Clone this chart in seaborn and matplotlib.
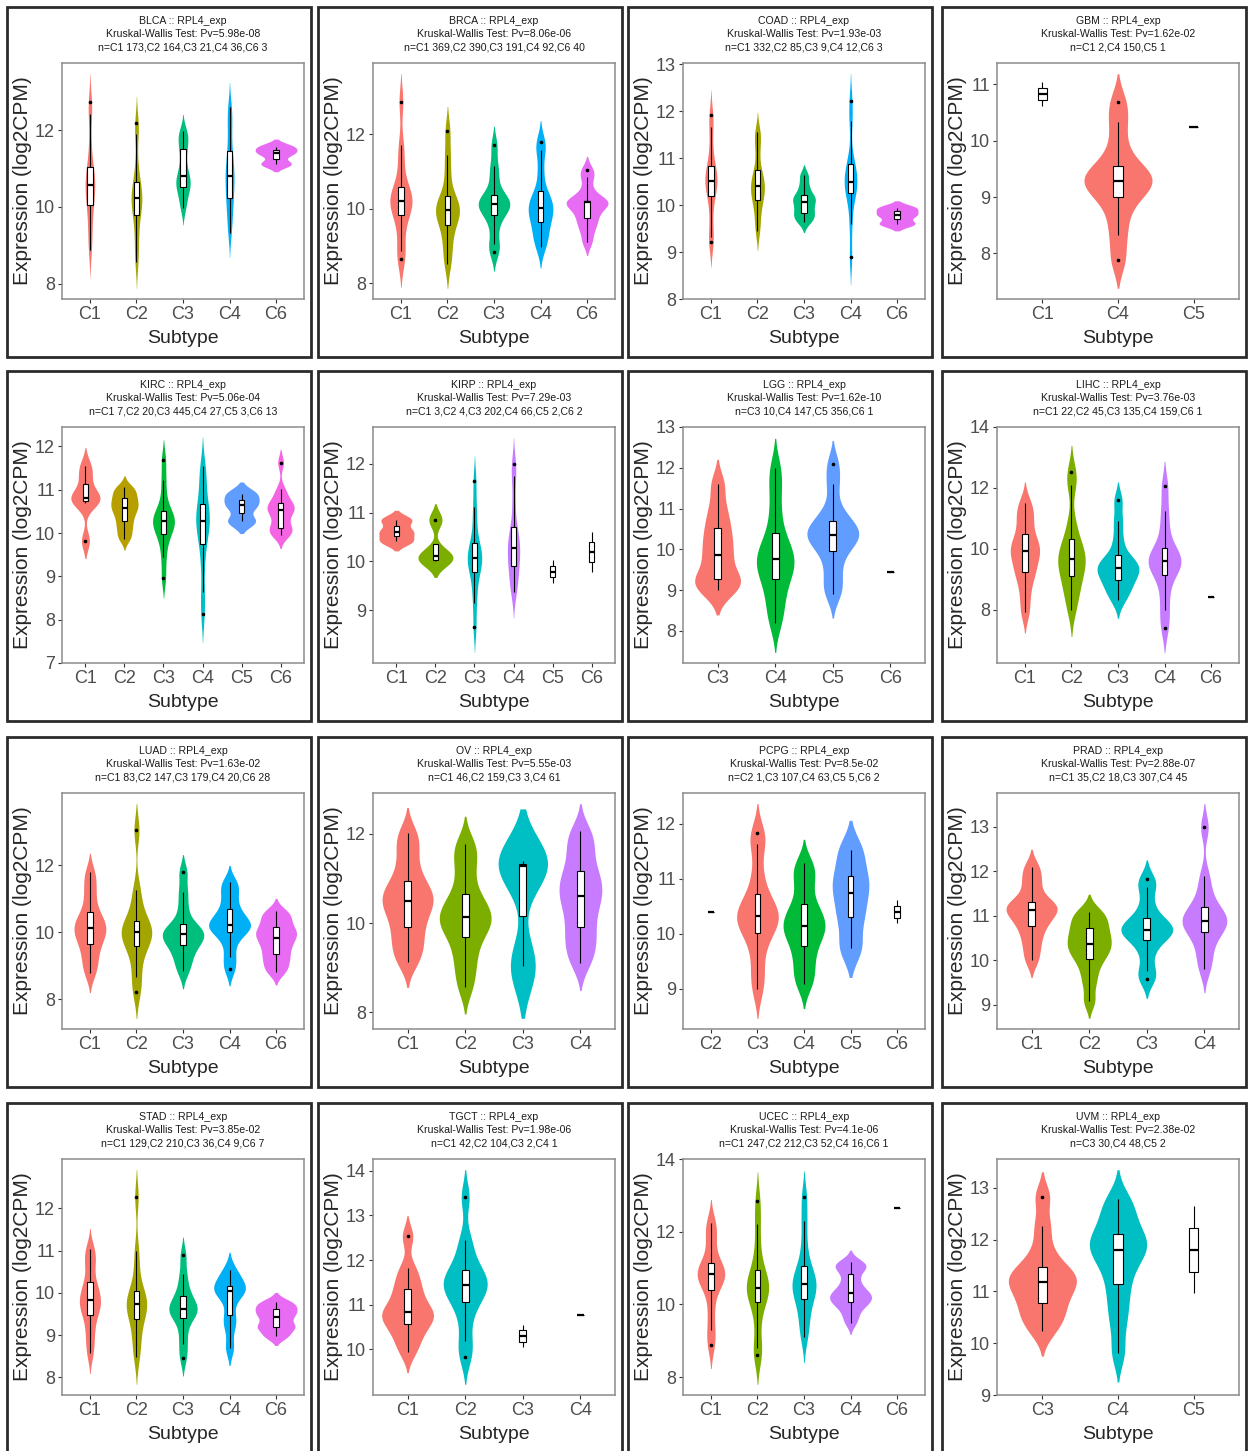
import numpy as np
import pandas as pd
import matplotlib
matplotlib.use("Agg")
import matplotlib.pyplot as plt
import seaborn as sns
from matplotlib.patches import Rectangle

# values below (quantile-like points per subtype)
cancers = ["BLCA", "BRCA", "COAD", "GBM", "KIRC", "KIRP", "LGG", "LIHC",
           "LUAD", "OV", "PCPG", "PRAD", "STAD", "TGCT", "UCEC", "UVM"]
pvalues = ["5.98e-08", "8.06e-06", "1.93e-03", "1.62e-02", "5.06e-04", "7.29e-03", "1.62e-10", "3.76e-03",
           "1.63e-02", "5.55e-03", "8.5e-02", "2.88e-07", "3.85e-02", "1.98e-06", "4.1e-06", "2.38e-02"]
yticks = [[8, 10, 12], [8, 10, 12], [8, 9, 10, 11, 12, 13], [8, 9, 10, 11],
          [7, 8, 9, 10, 11, 12], [9, 10, 11, 12], [8, 9, 10, 11, 12, 13], [8, 10, 12, 14],
          [8, 10, 12], [8, 10, 12], [9, 10, 11, 12], [9, 10, 11, 12, 13],
          [8, 9, 10, 11, 12], [10, 11, 12, 13, 14], [8, 10, 12, 14], [9, 10, 11, 12, 13]]

blca_sub = ["C1", "C2", "C3", "C4", "C6"]
blca_n = [173, 164, 21, 36, 3]
blca_vals = [[8.88, 9.3, 9.7, 10.04, 10.25, 10.42, 10.58, 10.72, 10.88, 11.03, 11.6, 12.42, 12.74],
             [8.56, 9.0, 9.4, 9.78, 9.95, 10.1, 10.22, 10.35, 10.5, 10.65, 11.1, 11.9, 12.2],
             [9.96, 10.2, 10.4, 10.52, 10.62, 10.72, 10.81, 11.0, 11.25, 11.51, 11.7, 11.85, 11.99],
             [9.33, 9.7, 10.0, 10.22, 10.45, 10.65, 10.81, 10.98, 11.2, 11.46, 11.9, 12.3, 12.6],
             [11.12, 11.4, 11.57]]

brca_sub = ["C1", "C2", "C3", "C4", "C6"]
brca_n = [369, 390, 191, 92, 40]
brca_vals = [[8.64, 8.85, 9.4, 9.83, 10.0, 10.1, 10.21, 10.33, 10.45, 10.58, 11.2, 11.7, 12.88],
             [8.51, 8.9, 9.25, 9.57, 9.75, 9.86, 9.96, 10.08, 10.2, 10.35, 10.9, 11.45, 12.1],
             [8.84, 9.05, 9.5, 9.83, 9.96, 10.05, 10.12, 10.2, 10.28, 10.37, 10.8, 11.15, 11.7],
             [8.97, 9.2, 9.4, 9.63, 9.8, 9.92, 10.02, 10.15, 10.3, 10.47, 11.0, 11.57, 11.8],
             [9.1, 9.4, 9.6, 9.75, 9.9, 10.05, 10.17, 10.19, 10.2, 10.21, 10.5, 10.85, 11.05]]

coad_sub = ["C1", "C2", "C3", "C4", "C6"]
coad_n = [332, 85, 9, 12, 3]
coad_vals = [[9.21, 9.33, 9.8, 10.19, 10.33, 10.43, 10.52, 10.62, 10.73, 10.84, 11.2, 11.67, 11.92],
             [9.44, 9.7, 9.95, 10.1, 10.23, 10.32, 10.4, 10.5, 10.62, 10.75, 11.1, 11.4, 11.56],
             [9.64, 9.75, 9.83, 9.95, 10.06, 10.15, 10.21, 10.4, 10.63],
             [8.89, 9.6, 10.1, 10.3, 10.4, 10.47, 10.53, 10.65, 10.85, 10.95, 11.8, 12.21],
             [9.6, 9.79, 9.94]]

gbm_sub = ["C1", "C4", "C5"]
gbm_n = [2, 150, 1]
gbm_vals = [[10.62, 11.04],
            [7.88, 8.33, 8.7, 9.0, 9.12, 9.21, 9.29, 9.38, 9.46, 9.55, 9.9, 10.33, 10.69],
            [10.24]]

kirc_sub = ["C1", "C2", "C3", "C4", "C5", "C6"]
kirc_n = [7, 20, 445, 27, 3, 13]
kirc_vals = [[9.82, 10.7, 10.76, 10.81, 10.95, 11.3, 11.56],
             [9.86, 10.0, 10.15, 10.27, 10.4, 10.5, 10.58, 10.65, 10.73, 10.81, 10.9, 11.0, 11.07],
             [8.97, 9.44, 9.8, 9.99, 10.12, 10.2, 10.27, 10.35, 10.42, 10.5, 10.8, 11.22, 11.69],
             [8.13, 8.64, 9.3, 9.74, 9.98, 10.15, 10.27, 10.4, 10.55, 10.67, 11.0, 11.3, 11.56],
             [10.27, 10.64, 10.9],
             [9.95, 10.02, 10.08, 10.12, 10.3, 10.45, 10.53, 10.58, 10.64, 10.69, 10.85, 11.01, 11.63]]

kirp_sub = ["C1", "C2", "C3", "C4", "C5", "C6"]
kirp_n = [3, 4, 202, 66, 2, 2]
kirp_vals = [[10.41, 10.61, 10.85],
             [10.0, 10.05, 10.19, 10.85],
             [8.66, 9.16, 9.5, 9.78, 9.92, 10.0, 10.06, 10.15, 10.27, 10.37, 10.75, 11.12, 11.64],
             [9.37, 9.55, 9.75, 9.9, 10.05, 10.18, 10.28, 10.4, 10.55, 10.71, 11.2, 11.74, 12.0],
             [9.56, 10.02],
             [9.79, 10.61]]

lgg_sub = ["C3", "C4", "C5", "C6"]
lgg_n = [10, 147, 356, 1]
lgg_vals = [[9.0, 9.1, 9.25, 9.35, 9.75, 9.99, 10.3, 10.6, 11.0, 11.6],
            [8.2, 8.6, 8.95, 9.27, 9.45, 9.62, 9.76, 9.92, 10.1, 10.39, 10.9, 11.5, 12.0],
            [8.9, 9.2, 9.6, 9.96, 10.15, 10.27, 10.36, 10.45, 10.58, 10.7, 11.0, 11.6, 12.09],
            [9.45]]

lihc_sub = ["C1", "C2", "C3", "C4", "C6"]
lihc_n = [22, 45, 135, 159, 1]
lihc_vals = [[7.93, 8.5, 9.0, 9.24, 9.5, 9.75, 9.92, 10.05, 10.25, 10.49, 10.9, 11.2, 11.51],
             [8.0, 8.5, 8.8, 9.1, 9.35, 9.55, 9.68, 9.85, 10.1, 10.34, 10.9, 12.11, 12.53],
             [8.33, 8.6, 8.8, 8.99, 9.15, 9.3, 9.39, 9.48, 9.6, 9.79, 10.3, 10.91, 11.59],
             [7.42, 8.0, 8.6, 9.15, 9.35, 9.5, 9.59, 9.7, 9.85, 10.03, 10.6, 11.24, 12.06],
             [8.41]]

luad_sub = ["C1", "C2", "C3", "C4", "C6"]
luad_n = [83, 147, 179, 20, 28]
luad_vals = [[8.78, 9.1, 9.4, 9.66, 9.85, 10.0, 10.12, 10.25, 10.42, 10.6, 11.0, 11.4, 11.79],
             [8.23, 8.67, 9.2, 9.59, 9.75, 9.88, 10.0, 10.12, 10.22, 10.34, 10.8, 11.28, 13.05],
             [8.85, 9.15, 9.4, 9.61, 9.75, 9.85, 9.94, 10.03, 10.13, 10.25, 10.7, 11.2, 11.79],
             [8.9, 9.27, 9.7, 10.0, 10.1, 10.17, 10.23, 10.35, 10.5, 10.69, 11.0, 11.3, 11.51],
             [8.81, 9.0, 9.2, 9.36, 9.55, 9.7, 9.84, 9.95, 10.05, 10.16, 10.35, 10.5, 10.64]]

ov_sub = ["C1", "C2", "C3", "C4"]
ov_n = [46, 159, 3, 61]
ov_vals = [[9.13, 9.4, 9.65, 9.91, 10.15, 10.35, 10.49, 10.6, 10.78, 10.95, 11.3, 11.7, 12.02],
           [8.58, 9.0, 9.35, 9.68, 9.88, 10.02, 10.13, 10.27, 10.45, 10.66, 11.1, 11.5, 11.78],
           [9.04, 11.28, 11.39],
           [9.1, 9.4, 9.65, 9.91, 10.2, 10.45, 10.62, 10.8, 11.0, 11.17, 11.5, 11.8, 12.07]]

pcpg_sub = ["C2", "C3", "C4", "C5", "C6"]
pcpg_n = [1, 107, 63, 5, 2]
pcpg_vals = [[10.4],
             [9.0, 9.35, 9.75, 10.02, 10.15, 10.25, 10.32, 10.42, 10.55, 10.72, 11.1, 11.63, 11.83],
             [9.08, 9.3, 9.55, 9.77, 9.95, 10.06, 10.15, 10.26, 10.4, 10.54, 10.85, 11.1, 11.28],
             [9.75, 10.31, 10.74, 11.06, 11.52],
             [10.19, 10.61]]

prad_sub = ["C1", "C2", "C3", "C4"]
prad_n = [35, 18, 307, 45]
prad_vals = [[10.0, 10.3, 10.55, 10.76, 10.9, 11.02, 11.12, 11.2, 11.26, 11.31, 11.6, 11.85, 12.1],
             [9.08, 9.5, 9.8, 10.03, 10.15, 10.27, 10.37, 10.47, 10.6, 10.71, 10.85, 11.0, 11.09],
             [9.57, 9.75, 10.15, 10.44, 10.55, 10.62, 10.68, 10.75, 10.85, 10.94, 11.25, 11.64, 11.82],
             [9.8, 10.1, 10.4, 10.63, 10.75, 10.82, 10.88, 10.97, 11.08, 11.2, 11.5, 11.88, 12.98]]

stad_sub = ["C1", "C2", "C3", "C4", "C6"]
stad_n = [129, 210, 36, 9, 7]
stad_vals = [[8.57, 8.9, 9.2, 9.47, 9.62, 9.73, 9.82, 9.95, 10.1, 10.25, 10.6, 10.85, 11.04],
             [8.48, 8.8, 9.1, 9.39, 9.55, 9.65, 9.74, 9.83, 9.93, 10.05, 10.5, 11.0, 12.27],
             [8.46, 8.78, 9.1, 9.41, 9.5, 9.56, 9.61, 9.7, 9.8, 9.93, 10.15, 10.45, 10.89],
             [8.7, 9.2, 9.47, 9.9, 10.05, 10.1, 10.16, 10.35, 10.54],
             [8.97, 9.15, 9.25, 9.43, 9.55, 9.67, 9.79]]

tgct_sub = ["C1", "C2", "C3", "C4"]
tgct_n = [42, 104, 2, 1]
tgct_vals = [[9.94, 10.2, 10.4, 10.57, 10.68, 10.77, 10.84, 10.95, 11.15, 11.34, 11.55, 11.82, 12.53],
             [9.83, 10.18, 10.7, 11.06, 11.2, 11.35, 11.45, 11.55, 11.66, 11.78, 12.1, 12.46, 13.41],
             [10.04, 10.55],
             [10.77]]

ucec_sub = ["C1", "C2", "C3", "C4", "C6"]
ucec_n = [247, 212, 52, 16, 1]
ucec_vals = [[8.88, 9.3, 9.85, 10.4, 10.6, 10.72, 10.83, 10.93, 11.03, 11.14, 11.6, 12.0, 12.25],
             [8.6, 8.8, 9.5, 10.06, 10.22, 10.35, 10.46, 10.6, 10.78, 10.95, 11.5, 12.2, 12.85],
             [9.11, 9.5, 9.85, 10.15, 10.32, 10.45, 10.56, 10.7, 10.88, 11.07, 11.6, 12.29, 12.96],
             [9.5, 9.7, 9.9, 10.0, 10.08, 10.15, 10.22, 10.28, 10.34, 10.45, 10.6, 10.78, 10.98, 11.05, 11.1, 11.17],
             [12.64]]

uvm_sub = ["C3", "C4", "C5"]
uvm_n = [30, 48, 2]
uvm_vals = [[10.23, 10.45, 10.6, 10.78, 10.95, 11.08, 11.19, 11.28, 11.38, 11.48, 11.8, 12.26, 12.83],
            [9.82, 10.4, 10.8, 11.14, 11.45, 11.65, 11.8, 11.9, 12.0, 12.11, 12.35, 12.6, 12.78],
            [10.96, 12.64]]

# ggplot default hue colours, by number of violins drawn in a panel
HUE = {1: ["#F8766D"],
       2: ["#F8766D", "#00BFC4"],
       3: ["#F8766D", "#00BA38", "#619CFF"],
       4: ["#F8766D", "#7CAE00", "#00BFC4", "#C77CFF"],
       5: ["#F8766D", "#A3A500", "#00BF7D", "#00B0F6", "#E76BF3"],
       6: ["#F8766D", "#B79F00", "#00BA38", "#00BFC4", "#619CFF", "#F564E3"]}


def draw_panel(ax, name, pv, subs, counts, vals, ticks):
    df = pd.DataFrame([(s, v) for s, vs in zip(subs, vals) for v in vs], columns=["Subtype", "value"])
    vio_subs = [s for s, n in zip(subs, counts) if n >= 3]
    pal = dict(zip(vio_subs, HUE[len(vio_subs)]))
    sns.violinplot(data=df[df["Subtype"].isin(vio_subs)], x="Subtype", y="value", hue="Subtype",
                   order=subs, hue_order=vio_subs, palette=pal, saturation=1, inner=None,
                   linewidth=0, width=0.9, cut=2, bw_adjust=0.55, density_norm="area",
                   common_norm=True, legend=False, ax=ax)
    sns.boxplot(data=df, x="Subtype", y="value", order=subs, width=0.12, color="white",
                saturation=1, linecolor="black", linewidth=0.8, showcaps=False,
                medianprops={"linewidth": 1.6},
                flierprops={"marker": "o", "markersize": 1.6, "markerfacecolor": "black",
                            "markeredgecolor": "black"}, ax=ax)
    y0, y1 = ax.dataLim.intervaly
    pad = 0.05 * (y1 - y0)
    ax.set_ylim(y0 - pad, y1 + pad)
    ax.set_xlim(-0.6, len(subs) - 0.4)
    ax.set_yticks(ticks)
    ax.set_yticklabels([str(t) for t in ticks])
    ax.set_xlabel("Subtype", fontsize=14, labelpad=5)
    ax.set_ylabel("Expression (log2CPM)", fontsize=15, labelpad=2)
    ax.tick_params(axis="both", direction="out", length=3, width=0.8, color="#333333",
                   labelcolor="#4D4D4D", labelsize=13, pad=2, left=True, bottom=True)
    for sp in ax.spines.values():
        sp.set_color("#8C8C8C")
        sp.set_linewidth(1.1)
    ax.grid(False)


def main():
    sns.set_theme(style="white")
    plt.rcParams["font.family"] = ["Liberation Sans", "DejaVu Sans"]

    W, H = 1250, 1451
    fig = plt.figure(figsize=(W / 100, H / 100), dpi=100)

    subs_all = [blca_sub, brca_sub, coad_sub, gbm_sub, kirc_sub, kirp_sub, lgg_sub, lihc_sub,
                luad_sub, ov_sub, pcpg_sub, prad_sub, stad_sub, tgct_sub, ucec_sub, uvm_sub]
    n_all = [blca_n, brca_n, coad_n, gbm_n, kirc_n, kirp_n, lgg_n, lihc_n,
             luad_n, ov_n, pcpg_n, prad_n, stad_n, tgct_n, ucec_n, uvm_n]
    vals_all = [blca_vals, brca_vals, coad_vals, gbm_vals, kirc_vals, kirp_vals, lgg_vals, lihc_vals,
                luad_vals, ov_vals, pcpg_vals, prad_vals, stad_vals, tgct_vals, ucec_vals, uvm_vals]

    frame_x = [7, 318, 628, 942]
    frame_y = [7, 371, 737, 1103]
    fw, fh = 304, 350

    for i, name in enumerate(cancers):
        r, c = divmod(i, 4)
        fx, fy = frame_x[c], frame_y[r]
        fig.add_artist(Rectangle((fx / W, 1 - (fy + fh) / H), fw / W, fh / H,
                                 transform=fig.transFigure, fill=False,
                                 edgecolor="#2B2B2B", linewidth=2, clip_on=False))
        ax_l, ax_t, ax_w, ax_h = fx + 55, fy + 56, 242, 236
        ax = fig.add_axes([ax_l / W, 1 - (ax_t + ax_h) / H, ax_w / W, ax_h / H])
        draw_panel(ax, name, pvalues[i], subs_all[i], n_all[i], vals_all[i], yticks[i])

        lines = [f"{name} :: RPL4_exp",
                 f"Kruskal-Wallis Test: Pv={pvalues[i]}",
                 "n=" + ",".join(f"{s} {n}" for s, n in zip(subs_all[i], n_all[i]))]
        cx = (ax_l + ax_w / 2) / W
        for off, txt in zip([13.7, 27, 40.7], lines):
            fig.text(cx, 1 - (fy + off) / H, txt, ha="center", va="center",
                     fontsize=7.6, color="#1A1A1A")

    fig.savefig("out.png", dpi=100)


if __name__ == "__main__":
    main()
